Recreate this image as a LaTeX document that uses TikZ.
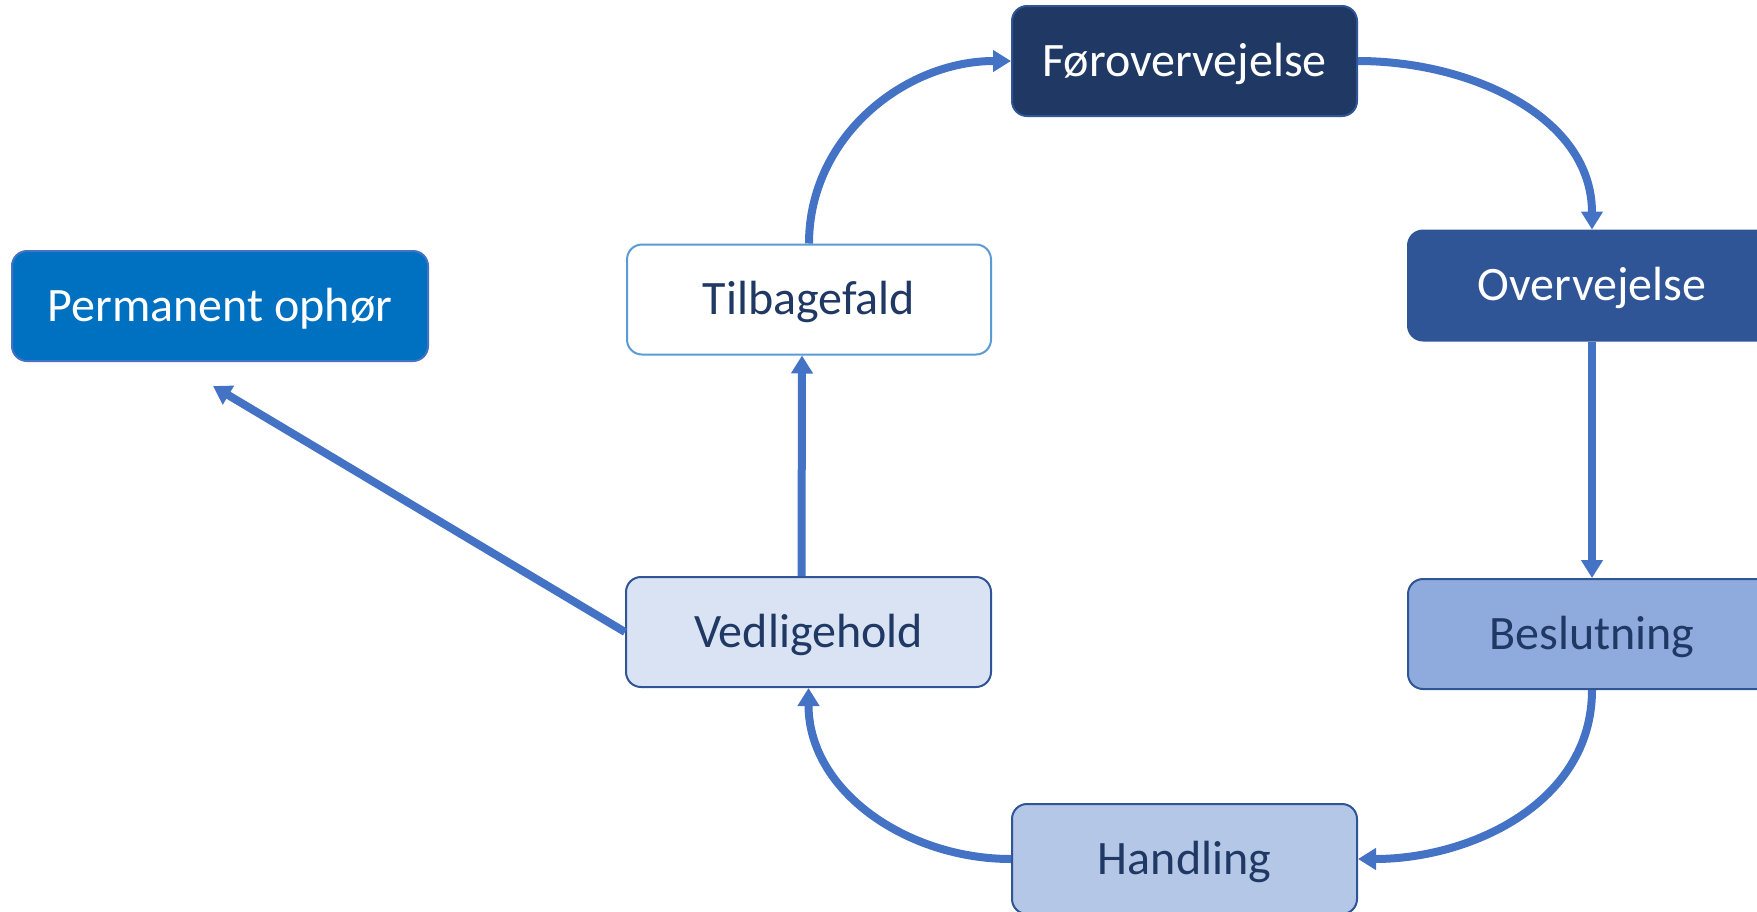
\documentclass[tikz,border=0pt]{standalone}
\usepackage{fontspec}
\setmainfont{Carlito}
\usetikzlibrary{arrows.meta}
\definecolor{linkblue}{HTML}{4472C4}
\definecolor{navy}{HTML}{203864}
\definecolor{midnavy}{HTML}{2F5597}
\definecolor{stepC}{HTML}{8FAADC}
\definecolor{stepD}{HTML}{B4C7E7}
\definecolor{stepE}{HTML}{DAE3F3}
\definecolor{relapse}{HTML}{5B9BD5}
\definecolor{exitblue}{HTML}{0070C0}
\definecolor{darktext}{HTML}{1F3864}
\tikzset{
  stage/.style={rectangle, rounded corners=7.5pt, line width=1pt,
    minimum height=55pt, inner sep=0pt,
    font=\fontsize{24}{29}\selectfont, text height=19.2pt, text depth=3.75pt},
  link/.style={draw=linkblue, line width=4pt,
    -{Triangle[length=9pt,width=10.5pt]}}
}
\begin{document}
\begin{tikzpicture}[x=0.5pt,y=-0.5pt]
\useasboundingbox (0,0) rectangle (1757,911);

\node[stage, fill=navy, draw=midnavy, text=white, minimum width=172.5pt]
  (pre) at (1184.5,61) {Førovervejelse};
\node[stage, fill=midnavy, draw=midnavy, text=white, minimum width=184pt]
  (con) at (1592,285.5) {Overvejelse};
\node[stage, fill=stepC, draw=midnavy, text=darktext, minimum width=184pt]
  (dec) at (1592,634) {Beslutning};
\node[stage, fill=stepD, draw=midnavy, text=darktext, minimum width=172.5pt]
  (act) at (1184.5,859) {Handling};
\node[stage, fill=stepE, draw=midnavy, text=darktext, minimum width=182.5pt]
  (mai) at (808.5,632) {Vedligehold};
\node[stage, fill=white, draw=relapse, text=darktext, minimum width=182pt]
  (rel) at (809,299.5) {Tilbagefald};
\node[stage, fill=exitblue, draw=linkblue, text=white, minimum width=208pt]
  (ter) at (220,306) {Permanent ophør};
\coordinate (terIn) at (213,386);

\draw[link] (rel.north) to[out=90,in=180] (pre.west);
\draw[link] (pre.east) to[out=0,in=90] (con.north);
\draw[link] (con.south) -- (dec.north);
\draw[link] (dec.south) to[out=-90,in=0] (act.east);
\draw[link] (act.west) to[out=180,in=-90] (mai.south);
\draw[link] ([xshift=-3.5pt]mai.north) -- ([xshift=-3.5pt]rel.south);
\draw[link] (mai.west) -- (terIn);
\end{tikzpicture}
\end{document}
